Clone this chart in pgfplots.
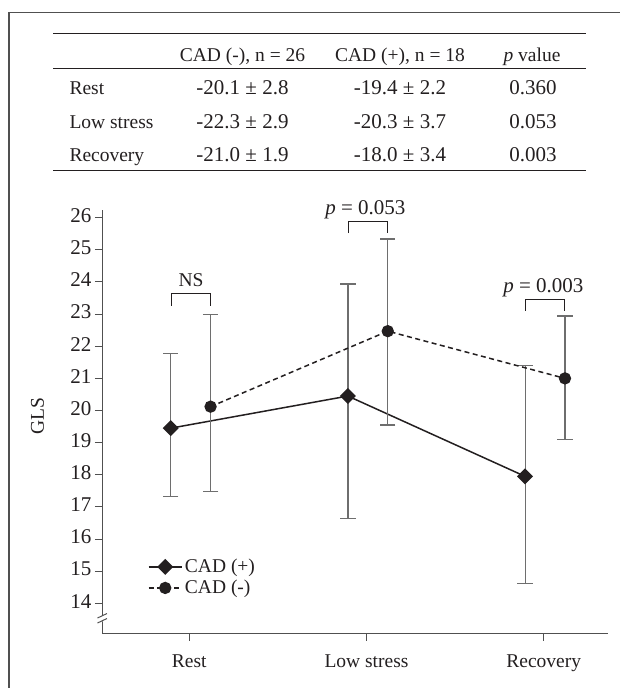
\documentclass[border=0pt]{standalone}
\usepackage{fontspec}
\setmainfont{Liberation Serif}
\usepackage{pgfplots}
\pgfplotsset{compat=1.18}
\definecolor{ink}{HTML}{231F20}
\definecolor{ebar}{HTML}{6E6E6E}
\definecolor{axgray}{HTML}{505050}
\newcommand{\fs}{\fontsize{19.5}{23}\selectfont}
\newcommand{\fn}{\fontsize{21}{24}\selectfont}
\begin{document}
\begin{tikzpicture}[font=\fs, text=ink]
\useasboundingbox (0pt,0pt) rectangle (619pt,-688pt);
% frame
\draw[axgray, line width=1.4pt] (9pt,-720pt) -- (9pt,-12.3pt) -- (650pt,-12.3pt);
% table rules
\draw[ink, line width=1pt] (53.3pt,-33.3pt) -- (585.7pt,-33.3pt);
\draw[ink, line width=1pt] (53.3pt,-68.3pt) -- (585.7pt,-68.3pt);
\draw[ink, line width=1pt] (53.3pt,-170.7pt) -- (585.7pt,-170.7pt);
% table text
\begin{scope}[every node/.style={inner sep=0pt}]
\node[anchor=base] at (242.5pt,-61.5pt) {CAD (-), n = 26};
\node[anchor=base] at (400pt,-61.5pt) {CAD (+), n = 18};
\node[anchor=base] at (532pt,-61.5pt) {{\itshape p} value};
\node[anchor=base west] at (69.3pt,-94.3pt) {Rest};
\node[anchor=base west] at (69.3pt,-128.7pt) {Low stress};
\node[anchor=base west] at (69.3pt,-161.7pt) {Recovery};
\node[anchor=base, font=\fn] at (242.5pt,-94.3pt) {-20.1 ± 2.8};
\node[anchor=base, font=\fn] at (242.5pt,-128.7pt) {-22.3 ± 2.9};
\node[anchor=base, font=\fn] at (242.5pt,-161.7pt) {-21.0 ± 1.9};
\node[anchor=base, font=\fn] at (400pt,-94.3pt) {-19.4 ± 2.2};
\node[anchor=base, font=\fn] at (400pt,-128.7pt) {-20.3 ± 3.7};
\node[anchor=base, font=\fn] at (400pt,-161.7pt) {-18.0 ± 3.4};
\node[anchor=base, font=\fn] at (533pt,-94.3pt) {0.360};
\node[anchor=base, font=\fn] at (533pt,-128.7pt) {0.053};
\node[anchor=base, font=\fn] at (533pt,-161.7pt) {0.003};
\end{scope}
% y label
\node[rotate=90, anchor=center, inner sep=0pt] at (37.5pt,-416.5pt) {GLS};
\begin{axis}[
  at={(102.3pt,-633.3pt)}, anchor=south west,
  x=177.2pt, y=32.13pt,
  xmin=-0.491, xmax=2.363, ymin=13.066, ymax=26.24,
  axis lines=left,
  axis line style={-, axgray, line width=1.2pt},
  xtick={0,1,2}, xticklabels={Rest,Low stress,Recovery},
  ytick={14,15,...,26},
  tick align=outside, major tick length=7.5pt,
  tick style={axgray, line width=1pt},
  /pgf/number format/assume math mode=true,
  tick label style={font=\fs, text=ink},
  yticklabel style={font=\fn},
  xticklabel style={yshift=-7pt},
  typeset ticklabels with strut,
  clip=false,
  legend style={draw=none, fill=none, at={(0.084,0.132)}, anchor=west,
    font=\fs, row sep=1pt, nodes={inner sep=2.5pt, text=ink}},
  legend cell align=left,
  legend image code/.code={\draw[mark repeat=2,mark phase=2,#1] plot coordinates {(0pt,0pt) (16.5pt,0pt) (33pt,0pt)};},
]
\addplot[ink, line width=1.5pt, mark=square*, mark size=4.9pt,
  mark options={rotate=45, solid, fill=ink},
  error bars/.cd, y dir=both, y explicit,
  error bar style={ebar, line width=1.2pt, solid},
  error mark options={ebar, line width=1.2pt, mark size=7.7pt, rotate=90}]
  coordinates {
  (-0.105,19.45) += (0,2.32) -= (0,2.13)
  (0.895,20.45) += (0,3.49) -= (0,3.82)
  (1.895,17.95) += (0,3.44) -= (0,3.34)
  };
\addlegendentry{CAD (+)}
\addplot[ink, line width=1.5pt, dash pattern=on 5pt off 3.5pt, mark=*, mark size=5.4pt,
  mark options={solid, fill=ink},
  error bars/.cd, y dir=both, y explicit,
  error bar style={ebar, line width=1.2pt, solid},
  error mark options={ebar, line width=1.2pt, mark size=7.7pt, rotate=90}]
  coordinates {
  (0.12,20.12) += (0,2.87) -= (0,2.63)
  (1.12,22.47) += (0,2.87) -= (0,2.92)
  (2.12,21.0) += (0,1.94) -= (0,1.89)
  };
\addlegendentry{CAD (-)}
% significance brackets
\draw[ink, line width=1pt] (axis cs:-0.1,23.26) -- (axis cs:-0.1,23.64) -- (axis cs:0.12,23.64) -- (axis cs:0.12,23.26);
\node[anchor=base, inner sep=0pt] at (axis cs:0.01,23.875) {NS};
\draw[ink, line width=1pt] (axis cs:0.9,25.52) -- (axis cs:0.9,25.88) -- (axis cs:1.12,25.88) -- (axis cs:1.12,25.52);
\node[anchor=base, inner sep=0pt, font=\fn] at (axis cs:0.994,26.11) {{\itshape p} = 0.053};
\draw[ink, line width=1pt] (axis cs:1.9,23.1) -- (axis cs:1.9,23.46) -- (axis cs:2.12,23.46) -- (axis cs:2.12,23.1);
\node[anchor=base, inner sep=0pt, font=\fn] at (axis cs:1.998,23.68) {{\itshape p} = 0.003};
\end{axis}
% axis break marks
\fill[white] (98pt,-617.5pt) -- (107pt,-613pt) -- (107pt,-619pt) -- (98pt,-623.5pt) -- cycle;
\draw[axgray, line width=1pt] (97.5pt,-618pt) -- (107pt,-613.5pt);
\draw[axgray, line width=1pt] (97.5pt,-623pt) -- (107pt,-618.5pt);
\end{tikzpicture}
\end{document}
